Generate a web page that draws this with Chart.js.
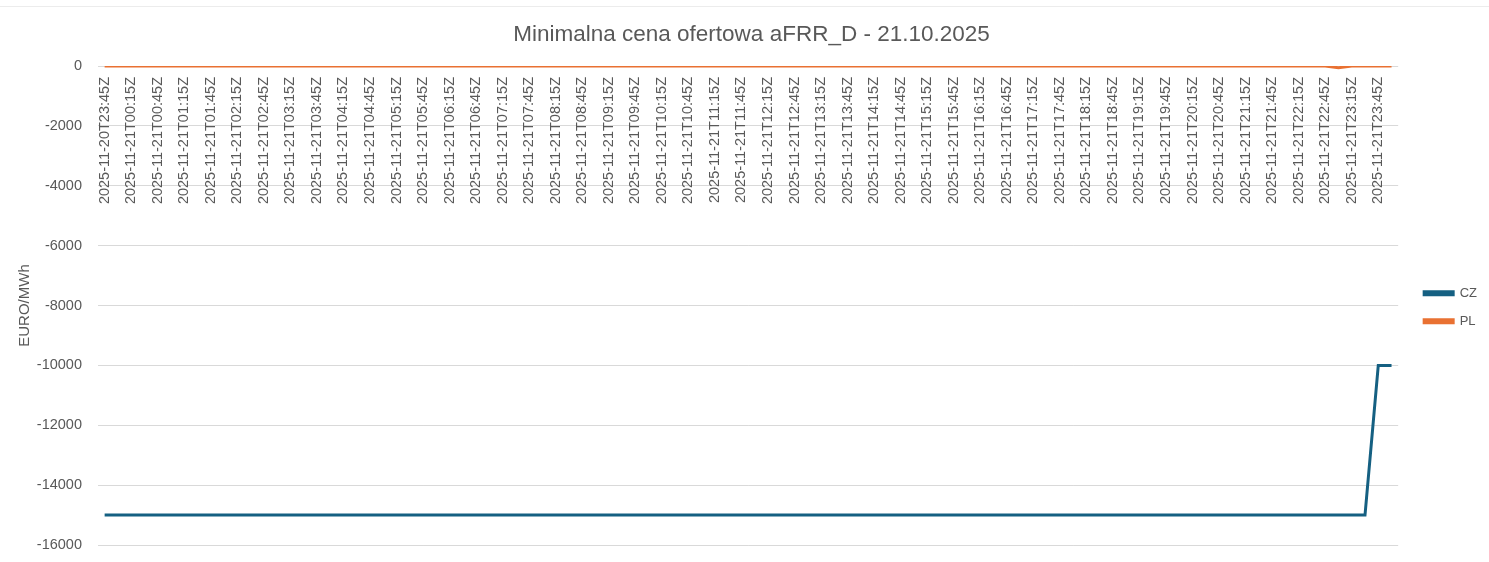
<!DOCTYPE html>
<html>
<head>
<meta charset="utf-8">
<script src="https://cdn.jsdelivr.net/npm/chart.js@4"></script>
<style>
  body { margin: 0; background: #fff; }
  #wrap { position: relative; width: 1489px; height: 562px; }
  #topline { position: absolute; left: 0; top: 6px; width: 1489px; height: 1px; background: #ececec; }
</style>
</head>
<body>
<div id="wrap">
  <div id="topline"></div>
  <canvas id="chart" width="1489" height="562"></canvas>
</div>
<script>
// 15-minute slots, 2025-11-20T23:45Z .. 2025-11-22T00:00Z
const startTime = Date.UTC(2025, 10, 20, 23, 45);
const slotCount = 98;
const labels = [];
for (let i = 0; i < slotCount; i++) {
    const d = new Date(startTime + i * 15 * 60000);
    labels.push(d.toISOString().slice(0, 16) + 'Z');
}

// values (EURO/MWh)
const czValues = [
    -15000, -15000, -15000, -15000, -15000, -15000, -15000, -15000, -15000, -15000,
    -15000, -15000, -15000, -15000, -15000, -15000, -15000, -15000, -15000, -15000,
    -15000, -15000, -15000, -15000, -15000, -15000, -15000, -15000, -15000, -15000,
    -15000, -15000, -15000, -15000, -15000, -15000, -15000, -15000, -15000, -15000,
    -15000, -15000, -15000, -15000, -15000, -15000, -15000, -15000, -15000, -15000,
    -15000, -15000, -15000, -15000, -15000, -15000, -15000, -15000, -15000, -15000,
    -15000, -15000, -15000, -15000, -15000, -15000, -15000, -15000, -15000, -15000,
    -15000, -15000, -15000, -15000, -15000, -15000, -15000, -15000, -15000, -15000,
    -15000, -15000, -15000, -15000, -15000, -15000, -15000, -15000, -15000, -15000,
    -15000, -15000, -15000, -15000, -15000, -15000, -10000, -10000
];
const plValues = [
    0, 0, 0, 0, 0, 0, 0, 0, 0, 0,
    0, 0, 0, 0, 0, 0, 0, 0, 0, 0,
    0, 0, 0, 0, 0, 0, 0, 0, 0, 0,
    0, 0, 0, 0, 0, 0, 0, 0, 0, 0,
    0, 0, 0, 0, 0, 0, 0, 0, 0, 0,
    0, 0, 0, 0, 0, 0, 0, 0, 0, 0,
    0, 0, 0, 0, 0, 0, 0, 0, 0, 0,
    0, 0, 0, 0, 0, 0, 0, 0, 0, 0,
    0, 0, 0, 0, 0, 0, 0, 0, 0, 0,
    0, 0, 0, -60, 0, 0, 0, 0
];

const grey = '#595959';
const fontFamily = '"Liberation Sans", Arial, sans-serif';

const ctx = document.getElementById('chart').getContext('2d');
const chart = new Chart(ctx, {
    type: 'line',
    data: {
        labels: labels,
        datasets: [{
            label: 'CZ',
            data: czValues,
            borderColor: '#156082',
            backgroundColor: '#156082',
            borderWidth: 3,
            pointRadius: 0,
            tension: 0
        }, {
            label: 'PL',
            data: plValues,
            borderColor: '#E97132',
            backgroundColor: '#E97132',
            borderWidth: 3,
            pointRadius: 0,
            tension: 0
        }]
    },
    options: {
        responsive: false,
        animation: false,
        layout: {
            padding: { left: 16, right: 2, top: 0, bottom: 17 }
        },
        scales: {
            x: {
                type: 'category',
                position: { y: 0 },
                offset: true,
                grid: { display: false, drawTicks: false },
                border: { display: false },
                ticks: {
                    autoSkip: false,
                    minRotation: 90,
                    maxRotation: 90,
                    padding: 11,
                    color: grey,
                    font: { family: fontFamily, size: 14.5 },
                    callback: function (value, index) {
                        return index % 2 === 0 ? this.getLabelForValue(value) : '';
                    }
                }
            },
            y: {
                min: -16000,
                max: 0,
                grid: { color: '#d9d9d9', drawTicks: true, tickLength: 16, tickColor: 'rgba(0,0,0,0)' },
                border: { display: false },
                afterFit: (scale) => { scale.width = 82; },
                ticks: {
                    stepSize: 2000,
                    padding: 0,
                    color: grey,
                    font: { family: fontFamily, size: 14.5 },
                    callback: (value) => String(value)
                },
                title: {
                    display: true,
                    text: 'EURO/MWh',
                    color: grey,
                    font: { family: fontFamily, size: 15 },
                    padding: { top: 0, bottom: 4 }
                }
            },
            // empty spacer between plot and legend
            gap: {
                type: 'linear',
                position: 'right',
                grid: { display: false, drawTicks: false },
                border: { display: false },
                ticks: { display: false },
                afterFit: (scale) => { scale.width = 11; }
            }
        },
        plugins: {
            title: {
                display: true,
                text: 'Minimalna cena ofertowa aFRR_D - 21.10.2025',
                color: grey,
                font: { family: fontFamily, size: 22.5, weight: 'normal' },
                padding: { top: 21, bottom: 18 }
            },
            legend: {
                position: 'right',
                title: {
                    display: true,
                    text: '',
                    font: { size: 13 },
                    padding: { top: 54, bottom: 0 }
                },
                labels: {
                    boxWidth: 29,
                    boxHeight: 3,
                    padding: 15,
                    color: grey,
                    font: { family: fontFamily, size: 13 }
                }
            },
            tooltip: { enabled: false }
        }
    }
});
</script>
</body>
</html>
